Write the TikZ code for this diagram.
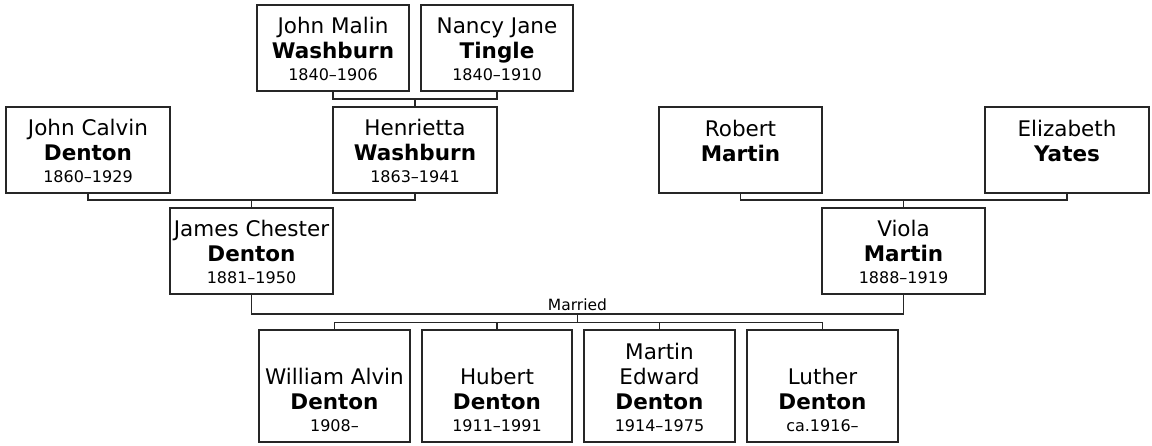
\documentclass[tikz,border=0pt]{standalone}
\usepackage{fontspec}
\setmainfont{DejaVu Sans}
\usetikzlibrary{calc}
\newcommand{\pb}[3]{\parbox[c][#2][b]{#1}{\centering #3\par\kern10pt}}
\newcommand{\nm}[1]{{\fontsize{21.5}{25}\selectfont #1\par}}
\newcommand{\sn}[1]{{\fontsize{21.5}{25}\selectfont\bfseries #1\par}}
\newcommand{\yr}[1]{{\fontsize{16}{22}\selectfont #1\par}}
\tikzset{
  person/.style={draw=black!85, line width=1.2pt, inner sep=0pt, outer sep=0pt, anchor=north west},
  conn/.style={draw=black!85, line width=1.2pt},
}
\begin{document}
\begin{tikzpicture}[x=1pt,y=-1pt]
\useasboundingbox (0,0) rectangle (1152,445);
% great-grandparents
\node[person] (jm) at (257,5) {\pb{152pt}{86pt}{\nm{John Malin}\sn{Washburn}\yr{1840–1906}}};
\node[person] (nj) at (421,5) {\pb{152pt}{86pt}{\nm{Nancy Jane}\sn{Tingle}\yr{1840–1910}}};
% grandparents
\node[person] (jc) at (6,107) {\pb{164pt}{86pt}{\nm{John Calvin}\sn{Denton}\yr{1860–1929}}};
\node[person] (hw) at (333,107) {\pb{164pt}{86pt}{\nm{Henrietta}\sn{Washburn}\yr{1863–1941}}};
\node[person] (rm) at (659,107) {\pb{163pt}{86pt}{\nm{Robert}\sn{Martin}\yr{\phantom{1}}}};
\node[person] (ey) at (985,107) {\pb{164pt}{86pt}{\nm{Elizabeth}\sn{Yates}\yr{\phantom{1}}}};
% parents
\node[person] (jd) at (170,208) {\pb{163pt}{86pt}{\nm{James Chester}\sn{Denton}\yr{1881–1950}}};
\node[person] (vm) at (822,208) {\pb{163pt}{86pt}{\nm{Viola}\sn{Martin}\yr{1888–1919}}};
% children
\node[person] (c1) at (259,330) {\pb{151pt}{112pt}{\nm{William Alvin}\sn{Denton}\yr{1908–}}};
\node[person] (c2) at (422,330) {\pb{150pt}{112pt}{\nm{Hubert}\sn{Denton}\yr{1911–1991}}};
\node[person] (c3) at (584,330) {\pb{151pt}{112pt}{\nm{Martin}\nm{Edward}\sn{Denton}\yr{1914–1975}}};
\node[person] (c4) at (747,330) {\pb{151pt}{112pt}{\nm{Luther}\sn{Denton}\yr{ca.1916–}}};
% connectors
\draw[conn] (jm.south) |- ([yshift=8pt]hw.north) -| (nj.south);
\draw[conn] (hw.north) -- ++(0,-8);
\draw[conn] (jc.south) |- ([yshift=8pt]jd.north) -| (hw.south);
\draw[conn] (jd.north) -- ++(0,-8);
\draw[conn] (rm.south) |- ([yshift=8pt]vm.north) -| (ey.south);
\draw[conn] (vm.north) -- ++(0,-8);
\coordinate (mar) at (577.5,314);
\coordinate (kb) at (577.5,322.5);
\draw[conn] (jd.south) |- (mar) -| (vm.south);
\node[anchor=base, inner sep=0pt, font=\fontsize{15.5}{18}\selectfont] (mlbl) at (577.5,310) {Married};
\draw[conn] (mar) -- (kb);
\draw[conn] (c1.north) |- (kb) -| (c4.north);
\draw[conn] (c2.north) -- (c2.north |- kb);
\draw[conn] (c3.north) -- (c3.north |- kb);
\end{tikzpicture}
\end{document}
